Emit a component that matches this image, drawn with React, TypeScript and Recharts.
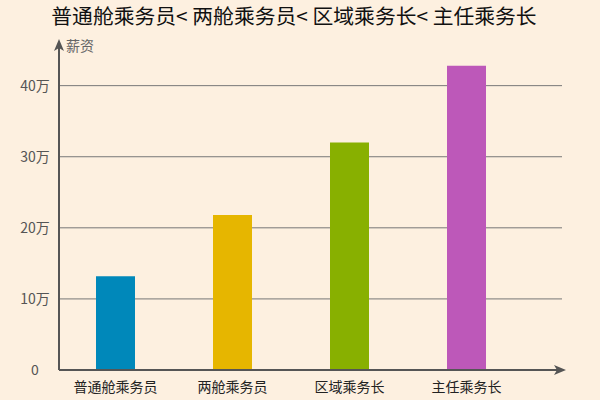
import { BarChart, Bar, XAxis, YAxis, CartesianGrid, Cell } from 'recharts';

const categories = ['普通舱乘务员', '两舱乘务员', '区域乘务长', '主任乘务长'];
const salaries = [13.2, 21.8, 32, 42.8];
const barColors = ['#0088BA', '#E6B600', '#88B000', '#BD58B9'];
const yTicks = [0, 10, 20, 30, 40];

const data = categories.map((name, i) => ({ name, value: salaries[i] }));

const FONT = '"Noto Sans CJK SC", "Noto Sans", sans-serif';

const YTick = ({ x, y, payload }: any) => (
  <text x={x - 16} y={y} dy={5} textAnchor="middle" fontSize={14} fill="#555" fontFamily={FONT}>
    {payload.value === 0 ? '0' : `${payload.value}万`}
  </text>
);

const XTick = ({ x, y, payload }: any) => (
  <text x={x} y={y} dy={14} textAnchor="middle" fontSize={14} fill="#222" fontFamily={FONT}>
    {payload.value}
  </text>
);

export default function App() {
  return (
    <div style={{ position: 'fixed', left: 0, top: 0, width: 600, height: 400, background: '#FDF0E0', fontFamily: FONT }}>
      <div style={{ position: 'absolute', left: 0, top: 0, width: 588, textAlign: 'center', fontSize: 20.8, color: '#111' }}>
        普通舱乘务员&lt; 两舱乘务员&lt; 区域乘务长&lt; 主任乘务长
      </div>
      <div style={{ position: 'absolute', left: 66, top: 35, fontSize: 14, color: '#666' }}>薪资</div>
      <BarChart width={600} height={400} data={data} margin={{ top: 43, right: 38, left: 0, bottom: 0 }}>
        <defs>
          <marker id="axisArrow" viewBox="0 0 12 10" refX="8" refY="5" markerWidth="14" markerHeight="10"
            markerUnits="userSpaceOnUse" orient="auto-start-reverse">
            <path d="M0,0 L12,5 L0,10 L3,5 Z" fill="#555" />
          </marker>
        </defs>
        <CartesianGrid vertical={false} stroke="#777" horizontalValues={yTicks} />
        <XAxis
          dataKey="name"
          height={30}
          padding={{ left: -2, right: 37 }}
          tickLine={false}
          axisLine={{ stroke: '#555', strokeWidth: 2, markerEnd: 'url(#axisArrow)' }}
          tick={<XTick />}
          interval={0}
        />
        <YAxis
          width={59}
          domain={[0, 46]}
          ticks={yTicks}
          tickLine={false}
          axisLine={{ stroke: '#555', strokeWidth: 2, markerStart: 'url(#axisArrow)' }}
          tick={<YTick />}
        />
        <Bar dataKey="value" barSize={39} isAnimationActive={false}>
          {data.map((d, i) => (
            <Cell key={d.name} fill={barColors[i]} />
          ))}
        </Bar>
      </BarChart>
    </div>
  );
}
